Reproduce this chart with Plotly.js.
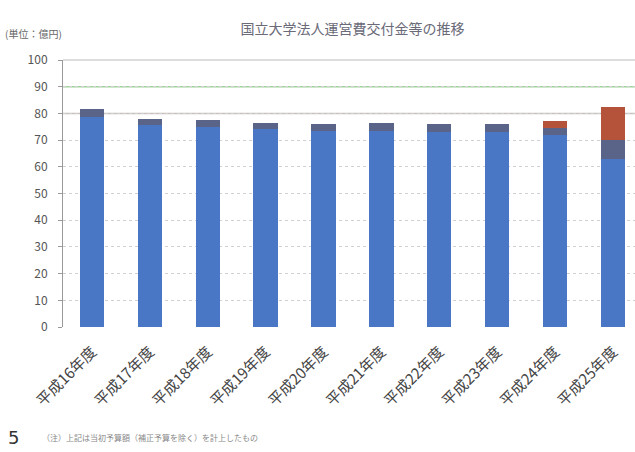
<!DOCTYPE html>
<html>
<head>
<meta charset="utf-8">
<script src="https://cdn.plot.ly/plotly-3.0.1.min.js"></script>
<style>
html,body{margin:0;padding:0;background:#fff;}
#chart{width:635px;height:452px;}
</style>
</head>
<body>
<div id="chart"></div>
<script>
var categories = ["平成16年度","平成17年度","平成18年度","平成19年度","平成20年度","平成21年度","平成22年度","平成23年度","平成24年度","平成25年度"];
var baseValues = [78.5, 75.5, 75, 74, 73.5, 73.5, 73, 73, 72, 63];
var capValues  = [3, 2.5, 2.5, 2.5, 2.5, 3, 3, 3, 2.5, 7];
var addValues  = [0, 0, 0, 0, 0, 0, 0, 0, 2.5, 12.5];
var yTicks = [0,10,20,30,40,50,60,70,80,90,100];
var refLineValues = [90, 80];
var refLineColors = ["#9fd49a", "#c9bfbf"];

var fontFam = "'Noto Sans CJK JP', 'Noto Sans', sans-serif";

var traces = [
  {type:"bar", x:categories, y:baseValues, marker:{color:"#4a76c6", line:{width:0}}, width:0.42, hoverinfo:"y"},
  {type:"bar", x:categories, y:capValues, marker:{color:"#5a6388", line:{width:0}}, width:0.42, hoverinfo:"y"},
  {type:"bar", x:categories, y:addValues, marker:{color:"#b4533a", line:{width:0}}, width:0.42, hoverinfo:"y"}
];

var shapes = refLineValues.map(function(v, i){
  return {type:"line", xref:"paper", x0:0, x1:1, yref:"y", y0:v, y1:v,
          line:{color:refLineColors[i], width:1.5}, layer:"below"};
});

var layout = {
  width:635, height:452,
  margin:{l:63, r:0, t:60, b:125},
  barmode:"stack",
  showlegend:false,
  paper_bgcolor:"#ffffff",
  plot_bgcolor:"#ffffff",
  font:{family:fontFam, color:"#555"},
  title:{text:"国立大学法人運営費交付金等の推移", x:0.555, xanchor:"center", y:0.935, yanchor:"middle",
         font:{size:14, color:"#6a6a78", family:fontFam}},
  xaxis:{
    type:"category",
    range:[-0.5, 9.38],
    tickangle:-45,
    tickfont:{size:15, color:"#444", family:fontFam},
    ticklabelstandoff:12,
    showline:false, showgrid:false, ticks:""
  },
  yaxis:{
    range:[0, 100],
    tickvals:yTicks,
    ticktext:yTicks.map(String),
    tickfont:{size:12, color:"#555"},
    ticklabelstandoff:8,
    showline:true, linecolor:"#999", linewidth:1,
    ticks:"outside", ticklen:4, tickcolor:"#999",
    showgrid:true, gridcolor:"#d0d0d0", griddash:"dot", gridwidth:1,
    zeroline:false
  },
  shapes:shapes.concat([
    {type:"line", xref:"paper", x0:0, x1:1, yref:"paper", y0:1, y1:1, line:{color:"#bbbbbb", width:1}}
  ]),
  annotations:[
    {text:"(単位：億円)", xref:"paper", yref:"paper", x:-0.105, y:1.1, xanchor:"left", yanchor:"middle",
     showarrow:false, font:{size:10, color:"#666", family:fontFam}},
    {text:"5", xref:"paper", yref:"paper", x:-0.1, y:-0.415, xanchor:"left", yanchor:"middle",
     showarrow:false, font:{size:18, color:"#333", family:"'DejaVu Sans', sans-serif"}},
    {text:"（注）上記は当初予算額（補正予算を除く）を計上したもの", xref:"paper", yref:"paper", x:-0.04, y:-0.415,
     xanchor:"left", yanchor:"middle", showarrow:false, font:{size:8, color:"#888", family:fontFam}}
  ]
};

Plotly.newPlot("chart", traces, layout, {displayModeBar:false, staticPlot:true});
</script>
</body>
</html>
